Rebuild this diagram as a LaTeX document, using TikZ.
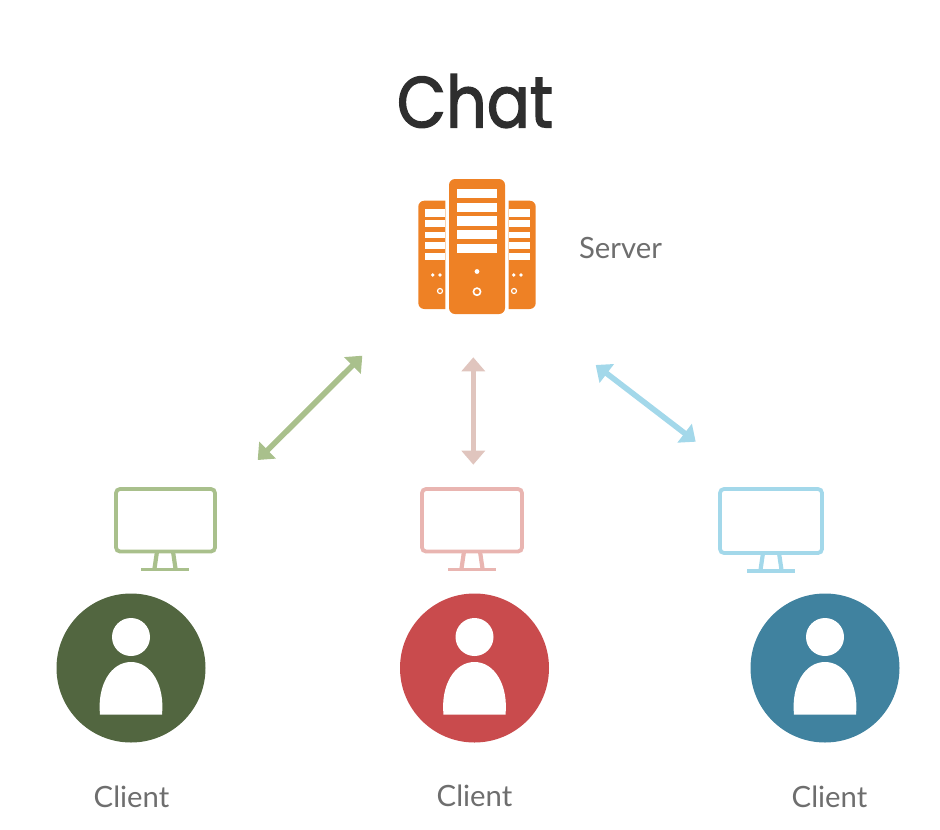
\documentclass[tikz,border=0pt]{standalone}
\usepackage{fontspec}
\setmainfont{Lato}
\newfontfamily\titlefont[FakeBold=2]{Poppins}
\usetikzlibrary{arrows.meta}
\definecolor{srv}{HTML}{EE8125}
\definecolor{gA}{HTML}{A9C08C}
\definecolor{gD}{HTML}{526640}
\definecolor{rA}{HTML}{E0C5BE}
\definecolor{rM}{HTML}{E9B5B1}
\definecolor{rD}{HTML}{C94B4D}
\definecolor{bA}{HTML}{A3D8EA}
\definecolor{bD}{HTML}{40829F}
\definecolor{txt}{HTML}{6E6E6E}
\tikzset{
  link/.style={line width=5.6pt,{Triangle[length=14pt,width=23pt]}-{Triangle[length=14pt,width=23pt]},shorten >=0pt,shorten <=0pt},
  lbl/.style={text=txt,font=\fontsize{29.3}{32}\selectfont,inner sep=0pt,anchor=center},
}
\newcommand{\monitor}[5]{% cx, left, right, bottom of screen, colour
  \draw[#5,line width=3.8pt,rounded corners=4pt] (#2,489) rectangle (#3,#4);
  \draw[#5,line width=4.2pt] (#1-8,#4) -- (#1-10.5,#4+17);
  \draw[#5,line width=4.2pt] (#1+8,#4) -- (#1+10.5,#4+17);
  \draw[#5,line width=3.8pt] (#1-24,#4+18) -- (#1+24,#4+18);
}
\newcommand{\person}[2]{% cx, colour
  \fill[#2] (#1,668) circle (74.5);
  \fill[white] (#1,637) circle (19);
  \fill[white] (#1-31,714.7) .. controls (#1-34,685) and (#1-20,662) .. (#1,662)
     .. controls (#1+20,662) and (#1+34,685) .. (#1+31,714.7) -- cycle;
}
\begin{document}
\begin{tikzpicture}[x=1pt,y=-1pt]
\useasboundingbox (0,0) rectangle (940,830);
\node[inner sep=0pt,text=black!82,xscale=.885,transform shape] (title) at (475,101) {\titlefont\fontsize{72}{80}\selectfont Chat};
% server
\fill[srv,rounded corners=6pt] (449,179) rectangle (505,314);
\foreach \a/\b in {189/198.3,202.7/212,216/225.7,230/239,243.7/252.7}
  \fill[white] (457,\a) rectangle (497,\b);
\fill[white] (477,271.5) circle (2.4);
\draw[white,line width=1.6pt] (477,291.7) circle (3.6);
% left tower
\fill[srv] (445.3,200.7) [rounded corners=6pt] -- (418.3,200.7) -- (418.3,309) [sharp corners] -- (445.3,309) -- cycle;
\foreach \a/\b in {209.3/216.7,220/227.3,231.7/238,242.3/248.7,252.7/260}
  \fill[white] (424.7,\a) rectangle (445.3,\b);
\fill[white] (432.7,275) circle (1.8) (440,275) circle (1.8);
\draw[white,line width=1.2pt] (440,291) circle (2.5);
% right tower
\fill[srv] (508.7,200.7) [rounded corners=6pt] -- (535.7,200.7) -- (535.7,309) [sharp corners] -- (508.7,309) -- cycle;
\foreach \a/\b in {209.3/216.7,220/227.3,231.7/238,242.3/248.7,252.7/260}
  \fill[white] (508.7,\a) rectangle (530,\b);
\fill[white] (513.7,275) circle (1.8) (521,275) circle (1.8);
\draw[white,line width=1.2pt] (514,291) circle (2.5);
\node[lbl] (server) at (620.5,248) {Server};
% connector ends
\coordinate (g1) at (362.3,355.7);
\coordinate (g2) at (257.7,460);
\coordinate (r1) at (473.3,357.3);
\coordinate (r2) at (473.3,464.7);
\coordinate (b1) at (595.7,365);
\coordinate (b2) at (695.7,441.7);
\draw[link,gA] (g2) -- (g1);
\draw[link,rA] (r2) -- (r1);
\draw[link,bA] (b2) -- (b1);
% clients
\monitor{165}{116}{215}{551.5}{gA}
\monitor{472}{422}{522}{551.5}{rM}
\monitor{771}{720}{822}{553}{bA}
\person{131}{gD}
\person{474.5}{rD}
\person{825}{bD}
\node[lbl] (c1) at (131.5,797) {Client};
\node[lbl] (c2) at (474.5,796) {Client};
\node[lbl] (c3) at (829.5,797) {Client};
\end{tikzpicture}
\end{document}
